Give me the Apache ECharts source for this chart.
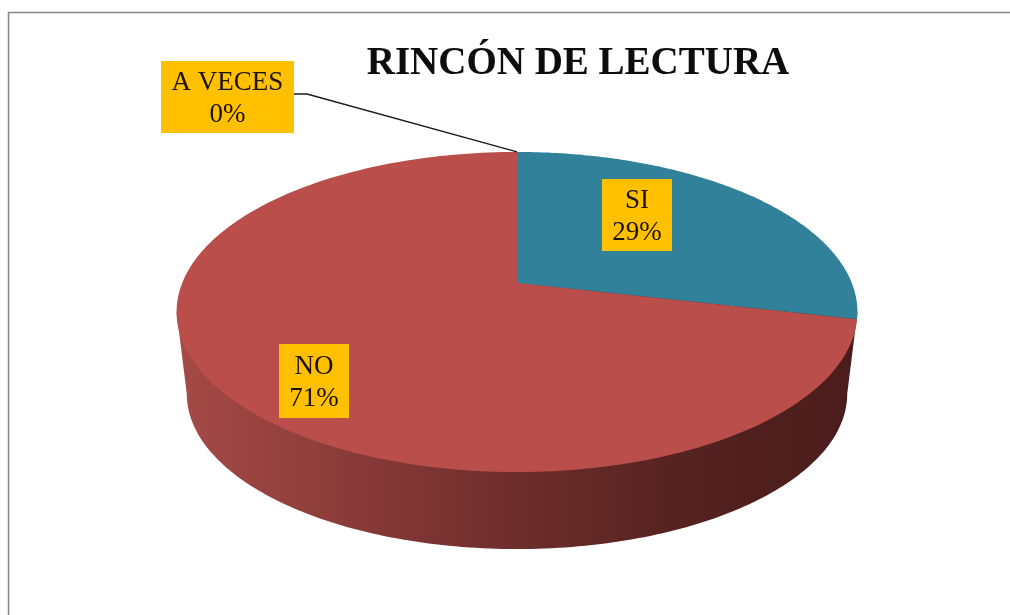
<!DOCTYPE html>
<html>
<head>
<meta charset="utf-8">
<style>html,body{margin:0;padding:0;background:#fff}#c{width:1010px;height:615px}</style>
<script src="https://cdn.jsdelivr.net/npm/echarts@6/dist/echarts.min.js"></script>
</head>
<body>
<div id="c"></div>
<script>
// Data
var categories = ['SI', 'NO', 'A VECES'];
var values = [28.6, 71.4, 0];
var titleText = 'RINCÓN DE LECTURA';

// Styling and layout, separate from the data
var sliceColors = ['#31819B', '#B94E4B', '#8064A2'];
var boxColor = '#FFC000';
var textColor = '#1c1208';
var labelBoxes = [
  {x: 602, y: 179, w: 70, h: 72},
  {x: 279, y: 344, w: 70, h: 74},
  {x: 161, y: 61, w: 133, h: 72}
];
var PIE = {cx: 517, cy: 283, a: 334.8, b: 154.8, k: 0.1812, depth: 82.7, shrink: 0.97};

function project(theta, s, dy) {
  var u = Math.sin(theta), v = -Math.cos(theta), w = 1 - PIE.k * v;
  return [PIE.cx + s * PIE.a * u / w, PIE.cy + dy + s * PIE.b * v / w];
}
var total = values.reduce(function (p, c) { return p + c; }, 0);
function startAngle(i) {
  var sum = 0;
  for (var j = 0; j < i; j++) sum += values[j];
  return sum / total * Math.PI * 2;
}

function renderSide() {
  var tR = Math.acos(-PIE.k), tL = Math.PI * 2 - tR, pts = [project(tR, 1, 0)], n = 160;
  for (var i = 0; i <= n; i++) pts.push(project(tR + (tL - tR) * i / n, PIE.shrink, PIE.depth));
  pts.push(project(tL, 1, 0));
  pts.push([PIE.cx, PIE.cy]);
  return {
    type: 'polygon', shape: {points: pts},
    style: {fill: {type: 'linear', x: 0, y: 0, x2: 1, y2: 0, colorStops: [
      {offset: 0, color: '#A54A47'}, {offset: 0.25, color: '#8A3B39'},
      {offset: 0.5, color: '#6D2D2B'}, {offset: 0.75, color: '#542220'},
      {offset: 1, color: '#4A1C1B'}]}}
  };
}

function renderSlice(params, api) {
  var i = params.dataIndex, t0 = startAngle(i);
  var t1 = t0 + api.value(0) / total * Math.PI * 2;
  var box = labelBoxes[i], kids = [];
  if (t1 > t0) {
    var pts = [[PIE.cx, PIE.cy]], n = 180;
    for (var j = 0; j <= n; j++) pts.push(project(t0 + (t1 - t0) * j / n, 1, 0));
    kids.push({type: 'polygon', shape: {points: pts}, style: {fill: sliceColors[i]}});
  } else {
    var end = project(t0, 1, 0), sy = box.y + 33, sx = box.x + box.w;
    kids.push({type: 'polyline', shape: {points: [[sx, sy], [sx + 13, sy], end]},
      style: {stroke: '#1a1a1a', lineWidth: 1.4, fill: 'none'}, z2: 5});
  }
  kids.push({type: 'rect', shape: {x: box.x, y: box.y, width: box.w, height: box.h},
    style: {fill: boxColor}, z2: 6});
  kids.push({type: 'text', z2: 7, style: {
    text: categories[i] + '\n' + Math.round(api.value(0)) + '%',
    x: box.x + box.w / 2, y: box.y + box.h / 2 + 2,
    align: 'center', verticalAlign: 'middle',
    font: '27px "Liberation Serif"', lineHeight: 32, fill: textColor
  }});
  return {type: 'group', children: kids};
}

var chart = echarts.init(document.getElementById('c'), null, {renderer: 'canvas'});
chart.setOption({
  animation: false,
  backgroundColor: '#ffffff',
  title: {
    text: titleText, left: 573, top: 39, textAlign: 'center',
    textStyle: {fontFamily: 'Liberation Serif', fontWeight: 'bold', fontSize: 39, color: '#0d0d0d'}
  },
  graphic: [{
    type: 'polyline', silent: true,
    shape: {points: [[8.5, 615], [8.5, 12.5], [1010, 12.5]]},
    style: {stroke: '#868686', lineWidth: 1.5, fill: 'none'}
  }],
  series: [
    {type: 'custom', coordinateSystem: 'none', silent: true, data: [total], renderItem: renderSide, z: 1},
    {type: 'custom', coordinateSystem: 'none', silent: true, renderItem: renderSlice, z: 2,
     encode: {value: 0},
     data: values.map(function (v, i) { return {name: categories[i], value: [v]}; })}
  ]
});
</script>
</body>
</html>
